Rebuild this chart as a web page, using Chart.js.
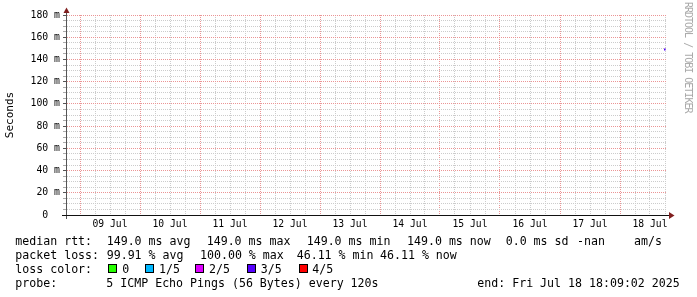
<!DOCTYPE html>
<html>
<head>
<meta charset="utf-8">
<script src="https://cdn.jsdelivr.net/npm/chart.js@4/dist/chart.umd.min.js"></script>
<style>
html,body{margin:0;padding:0;background:#fff;}
#wrap{position:relative;width:697px;height:297px;overflow:hidden;background:#fff;}
#c{position:absolute;left:0;top:0;}
.t{position:absolute;font-family:"DejaVu Sans Mono",monospace;font-size:11.6px;line-height:14px;white-space:pre;color:#000;}
.box{position:absolute;width:7px;height:7px;border:1px solid #000;}
.wm{position:absolute;left:693px;top:2px;font-family:"DejaVu Sans Mono",monospace;font-size:10px;line-height:10px;letter-spacing:-1px;white-space:pre;color:#aaa;transform-origin:0 0;transform:rotate(90deg);}
</style>
</head>
<body>
<div id="wrap">
<canvas id="c" width="697" height="297"></canvas>
<div id="legend"></div>
<div class="wm">RRDTOOL / TOBI OETIKER</div>
</div>
<script>
// ---- data ----
const dayLabels = ['09 Jul','10 Jul','11 Jul','12 Jul','13 Jul','14 Jul','15 Jul','16 Jul','17 Jul','18 Jul'];
const dayNoonHours = [12,36,60,84,108,132,156,180,204,228]; // hours after 09 Jul 00:00
const sampleHours = [233.6, 234.2];      // time of the only measured samples (hours after 09 Jul 00:00)
const medianRttMs = [149.0, 149.0];      // median rtt (ms)
const yTickValues = [0,20,40,60,80,100,120,140,160,180];
const yTickLabels = ['0  ','20 m','40 m','60 m','80 m','100 m','120 m','140 m','160 m','180 m'];
const lossLabels = ['0','1/5','2/5','3/5','4/5'];
const lossColors = ['#26ff00','#00b8ff','#dd00ff','#5500ff','#ff0000'];
const rttStats = ['149.0 ms avg','149.0 ms max','149.0 ms min','149.0 ms now','0.0 ms sd','-nan','am/s'];
const lossStats = ['99.91 % avg','100.00 % max','46.11 % min','46.11 % now'];
const probeText = '5 ICMP Echo Pings (56 Bytes) every 120s';
const endText = 'end: Fri Jul 18 18:09:02 2025';

// ---- layout (positions only) ----
const X_MIN = -5.2, X_MAX = 234.8;
const GRID = '#cccccc', MGRID = '#eb9595', ARROW = '#801f1f';

function isMajor(c, step) {
  const t = c && c.tick;
  return !!t && Math.abs(t.value % step) < 1e-6;
}

const axisDeco = {
  id: 'axisDeco',
  afterDraw(chart) {
    const ctx = chart.ctx, a = chart.chartArea;
    ctx.save();
    ctx.setLineDash([]);
    ctx.lineWidth = 1;
    // y axis
    ctx.strokeStyle = '#555';
    ctx.beginPath(); ctx.moveTo(a.left - 0.5, 10); ctx.lineTo(a.left - 0.5, a.bottom + 4); ctx.stroke();
    // x axis
    ctx.strokeStyle = '#111';
    ctx.beginPath(); ctx.moveTo(a.left - 5, a.bottom + 0.5); ctx.lineTo(a.right + 3, a.bottom + 0.5); ctx.stroke();
    // arrows
    ctx.fillStyle = ARROW;
    ctx.beginPath(); ctx.moveTo(a.left - 3.5, 13); ctx.lineTo(a.left + 2.5, 13); ctx.lineTo(a.left - 0.5, 7.5); ctx.closePath(); ctx.fill();
    ctx.beginPath(); ctx.moveTo(a.right + 2, a.bottom - 3); ctx.lineTo(a.right + 2, a.bottom + 4); ctx.lineTo(a.right + 7.5, a.bottom + 0.5); ctx.closePath(); ctx.fill();
    ctx.restore();
  }
};

new Chart(document.getElementById('c'), {
  type: 'line',
  data: {
    datasets: [{
      data: sampleHours.map((h, i) => ({x: h, y: medianRttMs[i]})),
      borderColor: lossColors[3],
      borderWidth: 2,
      pointRadius: 0,
      tension: 0,
      fill: false
    }]
  },
  options: {
    responsive: false,
    animation: false,
    events: [],
    layout: {padding: {left: 0, right: 30, top: 15, bottom: 0}},
    plugins: {legend: {display: false}, tooltip: {enabled: false}},
    scales: {
      x: {
        type: 'linear', min: X_MIN, max: X_MAX,
        afterFit(s) { s.height = 82; },
        afterBuildTicks(s) {
          const t = [];
          for (let v = 0; v <= X_MAX; v += 6) t.push({value: v});
          s.ticks = t;
        },
        ticks: {
          autoSkip: false, maxRotation: 0, minRotation: 0, padding: 4,
          color: '#000', font: {family: 'DejaVu Sans Mono', size: 9.7},
          callback(v) { const i = dayNoonHours.indexOf(v); return i >= 0 ? dayLabels[i] : ''; }
        },
        grid: {
          drawTicks: false, lineWidth: 1,
          color: c => isMajor(c, 24) ? MGRID : GRID
        },
        border: {display: false, dash: [1, 1]}
      },
      y: {
        type: 'linear', min: 0, max: 180,
        afterFit(s) { s.width = 67; },
        afterBuildTicks(s) {
          const t = [];
          for (let v = 0; v <= 180; v += 5) t.push({value: v});
          s.ticks = t;
        },
        ticks: {
          autoSkip: false, padding: 3,
          color: '#000', font: {family: 'DejaVu Sans Mono', size: 9.8},
          callback(v) { const i = yTickValues.indexOf(v); return i >= 0 ? yTickLabels[i] : ''; }
        },
        grid: {
          drawTicks: true, tickLength: 4, lineWidth: 1,
          color: c => isMajor(c, 20) ? MGRID : GRID,
          tickColor: c => isMajor(c, 20) ? '#555' : '#aaa'
        },
        border: {display: false, dash: [1, 1]},
        title: {
          display: true, text: 'Seconds', color: '#000',
          font: {family: 'DejaVu Sans Mono', size: 11},
          padding: {top: 4, bottom: 4}
        }
      }
    }
  },
  plugins: [axisDeco]
});

// ---- text legend below the graph (real text) ----
const L = document.getElementById('legend');
function addText(x, y, s) {
  const d = document.createElement('div');
  d.className = 't'; d.style.left = x + 'px'; d.style.top = y + 'px'; d.textContent = s;
  L.appendChild(d);
}
function addBox(x, y, col) {
  const d = document.createElement('div');
  d.className = 'box'; d.style.left = x + 'px'; d.style.top = y + 'px'; d.style.background = col;
  L.appendChild(d);
}
const rowTop = [234, 248, 262, 276];
const rttX = [106.7, 206.7, 306.7, 407, 505.7, 577, 634];
const lossX = [106.7, 200, 296.7, 380];
const boxX = [108, 145, 195, 246.5, 299];
const lossLabelX = [122.3, 159, 209, 260.7, 312.3];

addText(15.3, rowTop[0], 'median rtt:');
rttStats.forEach((s, i) => addText(rttX[i], rowTop[0], s));
addText(15.3, rowTop[1], 'packet loss:');
lossStats.forEach((s, i) => addText(lossX[i], rowTop[1], s));
addText(15.3, rowTop[2], 'loss color:');
lossColors.forEach((c, i) => { addBox(boxX[i], rowTop[2] + 2, c); addText(lossLabelX[i], rowTop[2], lossLabels[i]); });
addText(15.3, rowTop[3], 'probe:');
addText(106.3, rowTop[3], probeText);
addText(477.3, rowTop[3], endText);
</script>
</body>
</html>
